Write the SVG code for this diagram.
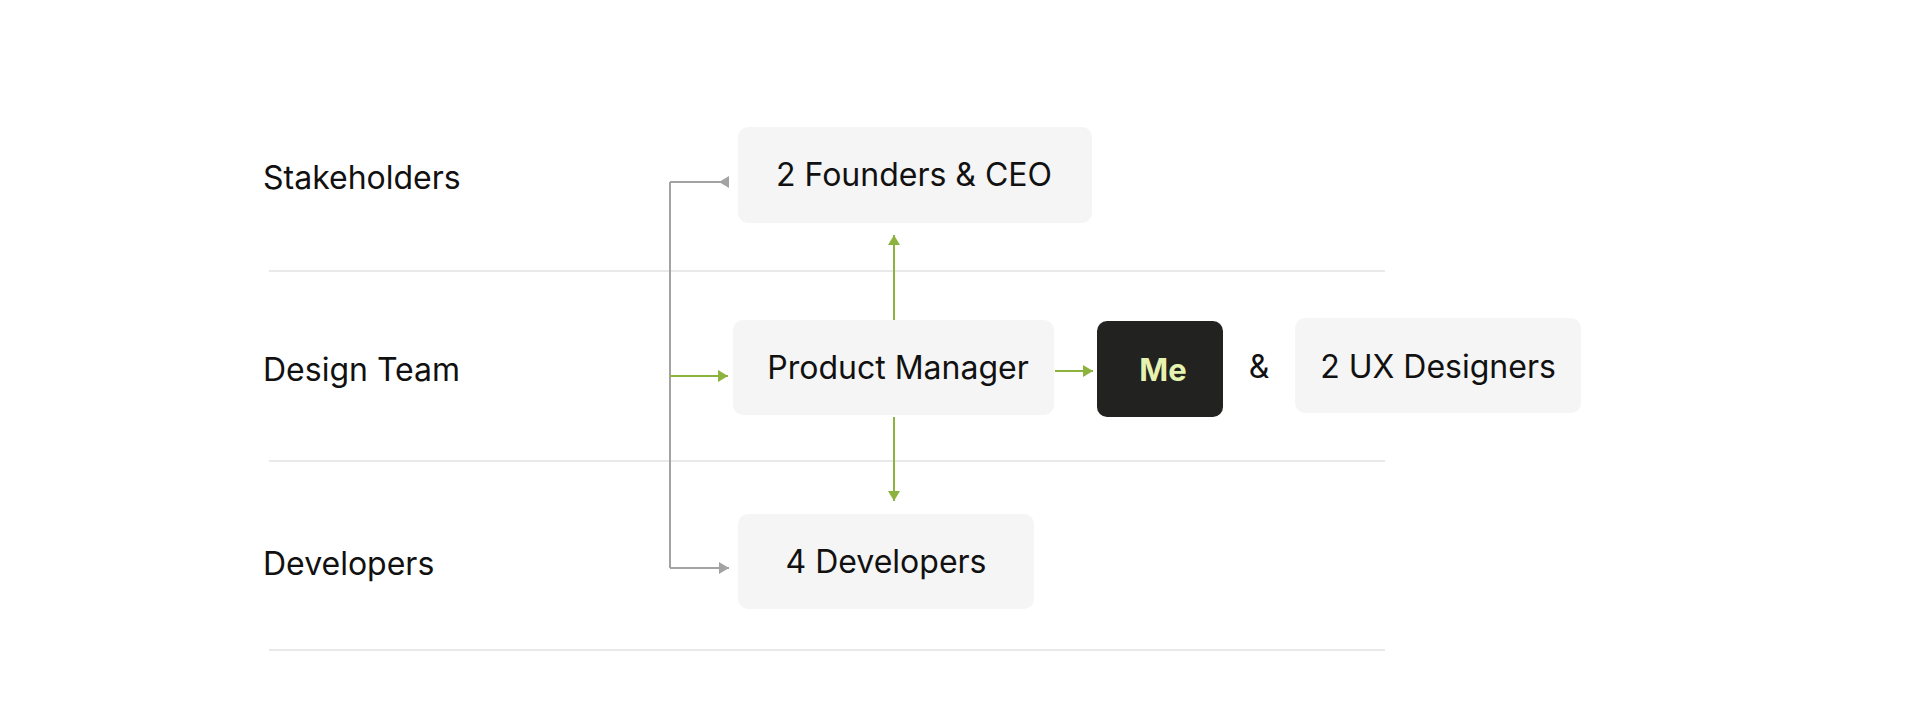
<svg xmlns="http://www.w3.org/2000/svg" width="1920" height="727" viewBox="0 0 1920 727">
<defs>
<style>
.lbl{font-family:Inter,"Liberation Sans",sans-serif;font-size:32px;fill:#111111}
.nt{font-family:Inter,"Liberation Sans",sans-serif;font-size:32px;fill:#111111;text-anchor:middle}
.box{fill:#f5f5f5}
.sep{stroke:#e9e9e9;stroke-width:2;fill:none}
.g{stroke:#8db33f;stroke-width:2;fill:none}
.k{stroke:#a3a3a3;stroke-width:2;fill:none}
</style>
<marker id="ag" viewBox="0 0 10 12" refX="10" refY="6" markerWidth="10" markerHeight="12" markerUnits="userSpaceOnUse" orient="auto"><path d="M0,0 L10,6 L0,12 Z" fill="#8db33f"/></marker>
<marker id="ak" viewBox="0 0 10 12" refX="10" refY="6" markerWidth="10" markerHeight="12" markerUnits="userSpaceOnUse" orient="auto"><path d="M0,0 L10,6 L0,12 Z" fill="#a3a3a3"/></marker>
<marker id="akr" viewBox="0 0 10 12" refX="10" refY="6" markerWidth="10" markerHeight="12" markerUnits="userSpaceOnUse" orient="auto"><path d="M10,0 L0,6 L10,12 Z" fill="#a3a3a3"/></marker>
</defs>
<rect width="1920" height="727" fill="#ffffff"/>
<g id="lanes">
<line class="sep" x1="269" y1="271" x2="1385" y2="271"/>
<line class="sep" x1="269" y1="461" x2="1385" y2="461"/>
<line class="sep" x1="269" y1="650" x2="1385" y2="650"/>
<text class="lbl" x="263" y="189">Stakeholders</text>
<text class="lbl" x="263" y="381">Design Team</text>
<text class="lbl" x="263" y="575">Developers</text>
</g>
<g id="connectors">
<path class="k" d="M670,182 L670,568"/>
<path class="k" d="M670,182 L729,182" marker-end="url(#akr)"/>
<path class="k" d="M670,568 L729,568" marker-end="url(#ak)"/>
<path class="g" d="M670,376 L728,376" marker-end="url(#ag)"/>
<path class="g" d="M894,320 L894,235" marker-end="url(#ag)"/>
<path class="g" d="M894,417 L894,501" marker-end="url(#ag)"/>
<path class="g" d="M1055,371 L1093,371" marker-end="url(#ag)"/>
</g>
<g id="founders">
<rect class="box" x="738" y="127" width="354" height="96" rx="10"/>
<text class="nt" x="914" y="186">2 Founders &amp; CEO</text>
</g>
<g id="pm">
<rect class="box" x="733" y="320" width="321" height="95" rx="10"/>
<text class="nt" x="898" y="379">Product Manager</text>
</g>
<g id="me">
<rect x="1097" y="321" width="126" height="96" rx="10" fill="#222220"/>
<text x="1163" y="381" style="font-family:Inter,'Liberation Sans',sans-serif;font-size:31px;font-weight:700;fill:#e6f3b0;text-anchor:middle">Me</text>
</g>
<g id="amp">
<text class="nt" x="1259" y="378">&amp;</text>
</g>
<g id="ux">
<rect class="box" x="1295" y="318" width="286" height="95" rx="10"/>
<text class="nt" x="1438" y="378">2 UX Designers</text>
</g>
<g id="devs">
<rect class="box" x="738" y="514" width="296" height="95" rx="10"/>
<text class="nt" x="886" y="573">4 Developers</text>
</g>
</svg>
